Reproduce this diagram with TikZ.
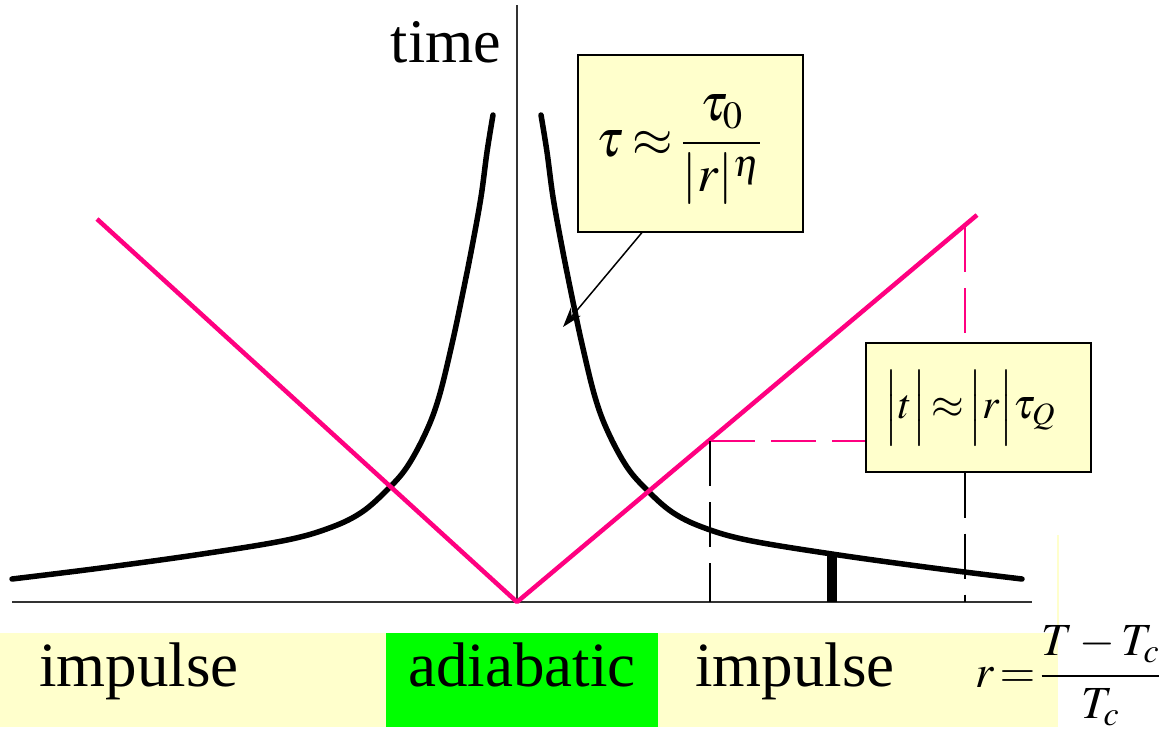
\documentclass[tikz,border=0pt]{standalone}
\usepackage{mathptmx}
\usepackage{fontspec}
\setmainfont{Liberation Serif}
\usetikzlibrary{arrows.meta, positioning}

\definecolor{hotpink}{RGB}{255,0,128}
\definecolor{notecream}{RGB}{255,255,204}
\definecolor{adiagreen}{RGB}{0,255,0}

\begin{document}
\begin{tikzpicture}[
    x=1pt, y=-1pt,
    axis/.style={draw=black!80, line width=2pt},
    curve/.style={line width=5.5pt, line join=round, line cap=round},
    sweep/.style={draw=hotpink, line width=4.5pt, line join=round},
    guide/.style={line width=1.5pt, dash pattern=on 45pt off 16pt},
    note/.style={rectangle, draw, line width=2pt, fill=notecream, inner sep=0pt},
    band/.style={rectangle, inner sep=0pt, minimum height=94pt, anchor=north west},
    bigword/.style={font=\fontsize{63}{70}\selectfont, anchor=base}
]
\useasboundingbox (0,0) rectangle (1176,734);

% Bottom strip
\node[band, fill=notecream, minimum width=1058pt] (strip) at (0,633) {};
\node[band, fill=adiagreen, minimum width=272pt] (adiabox) at (386,633) {};
\draw[notecream, line width=2pt] (strip.north east) -- ++(0,-98);
\node[bigword] (impulseL) at (139,686) {impulse};
\node[bigword] (adiabatic) at (522,686) {adiabatic};
\node[bigword] (impulseR) at (795,686) {impulse};
\node[font=\fontsize{46}{54}\selectfont] (rdef) at (1068,676)
    {$\displaystyle r\mkern-2mu=\mkern-2mu\frac{T-T_c}{T_c}$};

% Axes
\coordinate (origin) at (517,602);
\draw[axis, line width=1.5pt] (origin) -- (517,5);
\draw[axis] (12,602) -- (1032,602);
\node[font=\fontsize{62}{70}\selectfont, anchor=base] (time) at (446,62) {time};

% Relaxation time
\draw[curve] plot[smooth, tension=0.6] coordinates {(12,579) (101,568) (202,554) (287,540) (332,527)
    (362,512) (387,490) (407,467) (426,432) (439,397) (452,344) (462,297) (472,247)
    (481,197) (487,152) (493,115)};
\draw[curve] plot[smooth, tension=0.6] coordinates {(1022,579) (933,568) (832,554) (747,540) (702,527)
    (672,512) (647,490) (627,467) (608,432) (595,397) (582,344) (572,297) (562,247)
    (553,197) (547,152) (541,115)};
\coordinate (freeze) at (832,554);
\draw[line width=10pt] (freeze) -- (freeze |- origin);

% Distance to transition
\coordinate (leftend) at (97,219);
\coordinate (rightend) at (977,215);
\draw[sweep] (leftend) -- (origin) -- (rightend);

% Boxes
\node[note, minimum width=225pt, minimum height=177pt] (taubox) at (690,143) {};
\node[font=\fontsize{52}{60}\selectfont] (tauform) at (679,150)
    {$\displaystyle \tau\mkern-1mu\approx\mkern-1mu\frac{\tau_0}{|r|^{\eta}}$};
\node[note, minimum width=225pt, minimum height=129pt] (tbox) at (978,407) {};
\node[font=\fontsize{42}{50}\selectfont] (tform) at (970,408)
    {$\Bigl|t\Bigr|\mkern-2mu\approx\mkern-2mu\Bigl|r\Bigr|\tau_Q$};

% Guides
\coordinate (tq) at (710,441);
\coordinate (ttop) at (965,227);
\draw[guide, hotpink] (tq) -- (tq -| tbox.west);
\draw[guide, hotpink] (ttop) -- (tbox.north -| ttop);
\draw[guide] (tq) -- (tq |- origin);
\draw[guide] (tbox.south -| ttop) -- (ttop |- origin);

% Pointer
\coordinate (curvept) at (563,327);
\draw[-{Stealth[length=20pt, width=13pt]}, line width=1.5pt] ([xshift=-48pt]taubox.south) -- (curvept);
\end{tikzpicture}
\end{document}
